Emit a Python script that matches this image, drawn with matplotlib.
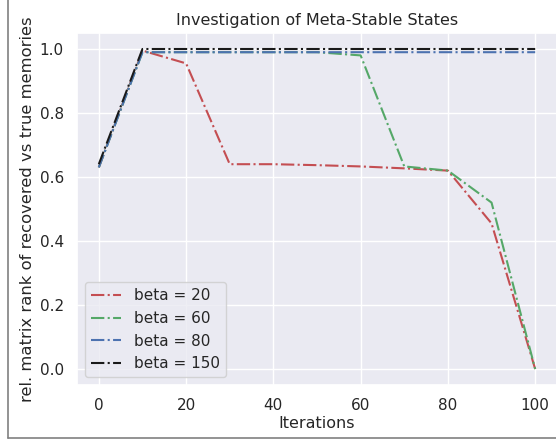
import numpy as np
import matplotlib
matplotlib.use("Agg")
import matplotlib.pyplot as plt
import seaborn as sns

sns.set_theme()

# Iterationen und Werte je beta
iterations = [0, 10, 20, 30, 40, 50, 60, 70, 80, 90, 100]
beta_20 = [0.63, 0.995, 0.955, 0.64, 0.64, 0.637, 0.633, 0.627, 0.62, 0.455, 0.0]
beta_60 = [0.63, 0.99, 0.99, 0.99, 0.99, 0.99, 0.98, 0.633, 0.62, 0.52, 0.0]
beta_80 = [0.63, 0.99, 0.99, 0.99, 0.99, 0.99, 0.99, 0.99, 0.99, 0.99, 0.99]
beta_150 = [0.64, 1.0, 1.0, 1.0, 1.0, 1.0, 1.0, 1.0, 1.0, 1.0, 1.0]

fig = plt.figure(figsize=(5.56, 4.42), dpi=100)
ax = fig.add_axes([77 / 556, 1 - 385 / 442, 480 / 556, 352 / 442])

ax.plot(iterations, beta_20, 'r-.', label='beta = 20')
ax.plot(iterations, beta_60, 'g-.', label='beta = 60')
ax.plot(iterations, beta_80, 'b-.', label='beta = 80')
ax.plot(iterations, beta_150, 'k-.', label='beta = 150')

ax.set_xlabel('Iterations', fontsize=11.5, labelpad=2)
ax.set_ylabel('rel. matrix rank of recovered vs true memories', fontsize=11.8, labelpad=3)
ax.set_title('Investigation of Meta-Stable States', fontsize=11.5)
ax.tick_params(labelsize=11)
ax.legend(loc='lower left', fontsize=11)

# Rahmen
fig.add_artist(plt.Line2D([7.5 / 556, 7.5 / 556], [1 - 438 / 442, 1], color='gray', lw=1.2))
fig.add_artist(plt.Line2D([7.5 / 556, 1], [1 - 438 / 442, 1 - 438 / 442], color='gray', lw=1.2))

fig.savefig('out.png', dpi=100)
